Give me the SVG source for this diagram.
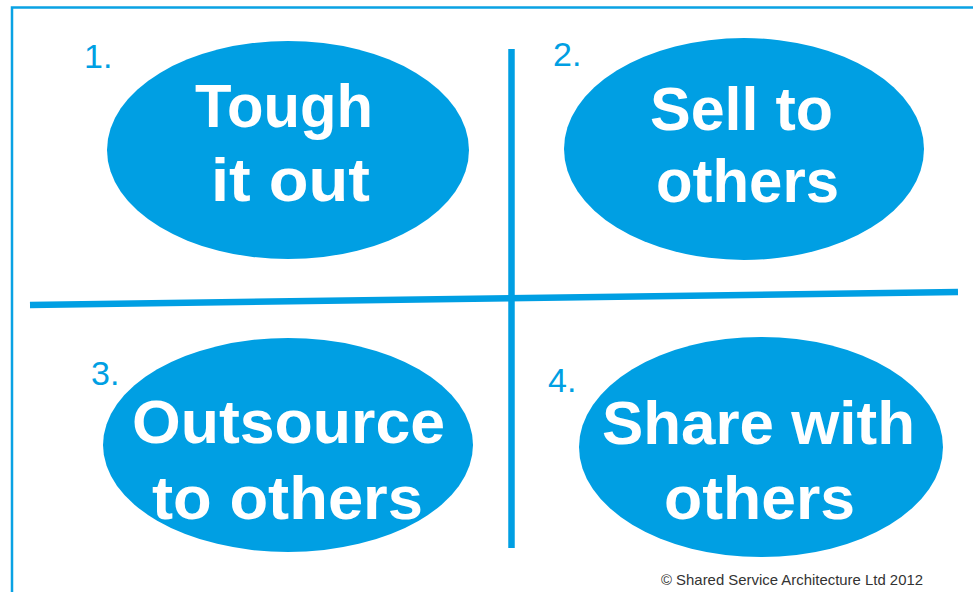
<svg xmlns="http://www.w3.org/2000/svg" width="973" height="592" viewBox="0 0 973 592">
  <style>
    .frame { stroke: #0AA2E4; stroke-width: 2.5; fill: none; }
    .axis { stroke: #009FE3; stroke-width: 6.5; fill: none; }
    .oval { fill: #009FE3; }
    .label { font-family: "Liberation Sans", Arial, sans-serif; font-weight: bold; font-size: 61px; fill: #FFFFFF; }
    .num { font-family: "Liberation Sans", Arial, sans-serif; font-size: 34px; fill: #009FE3; }
    .credit { font-family: "Liberation Sans", Arial, sans-serif; font-size: 15px; fill: #333333; }
  </style>

  <rect width="973" height="592" fill="#FFFFFF"/>

  <!-- outer frame (top and left edges) -->
  <path class="frame" d="M12,592 V7.5 H973"/>

  <!-- quadrant dividers -->
  <g id="connectors">
    <line class="axis" x1="511.5" y1="49" x2="511.5" y2="548"/>
    <line class="axis" x1="30" y1="305" x2="958" y2="292"/>
  </g>

  <g id="option1">
    <text class="num" x="84" y="68">1.</text>
    <ellipse class="oval" cx="288" cy="150" rx="181" ry="109"/>
    <text class="label" x="195" y="127" textLength="178" lengthAdjust="spacingAndGlyphs">Tough</text>
    <text class="label" x="211" y="201" textLength="159" lengthAdjust="spacingAndGlyphs">it out</text>
  </g>

  <g id="option2">
    <text class="num" x="553" y="66">2.</text>
    <ellipse class="oval" cx="744" cy="149" rx="180" ry="111"/>
    <text class="label" x="650" y="130" textLength="183" lengthAdjust="spacingAndGlyphs">Sell to</text>
    <text class="label" x="656" y="202" textLength="183" lengthAdjust="spacingAndGlyphs">others</text>
  </g>

  <g id="option3">
    <text class="num" x="91" y="385">3.</text>
    <ellipse class="oval" cx="288" cy="445" rx="185" ry="107"/>
    <text class="label" x="132" y="443" textLength="313" lengthAdjust="spacingAndGlyphs">Outsource</text>
    <text class="label" x="152" y="519" textLength="271" lengthAdjust="spacingAndGlyphs">to others</text>
  </g>

  <g id="option4">
    <text class="num" x="548" y="392">4.</text>
    <ellipse class="oval" cx="761" cy="447" rx="182" ry="110"/>
    <text class="label" x="602" y="444" textLength="313" lengthAdjust="spacingAndGlyphs">Share with</text>
    <text class="label" x="664" y="519" textLength="191" lengthAdjust="spacingAndGlyphs">others</text>
  </g>

  <text class="credit" x="661" y="585" textLength="262" lengthAdjust="spacingAndGlyphs">© Shared Service Architecture Ltd 2012</text>
</svg>
